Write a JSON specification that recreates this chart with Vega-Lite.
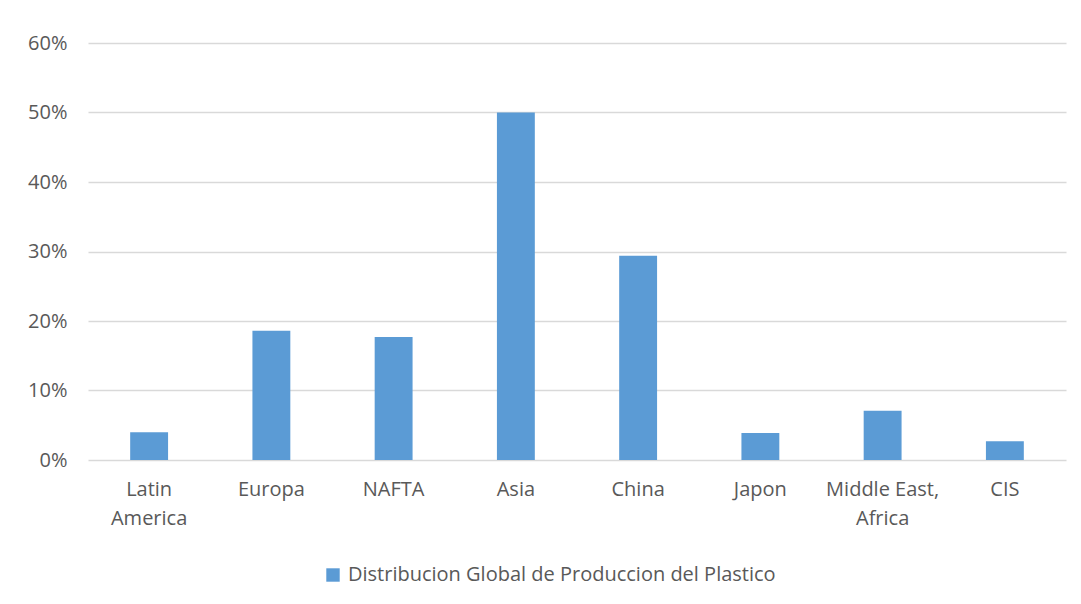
{
  "$schema": "https://vega.github.io/schema/vega-lite/v6.json",
  "width": 978,
  "height": 417,
  "autosize": {"type": "none"},
  "padding": {"left": 88, "top": 43, "right": 15, "bottom": 144},
  "background": "white",
  "data": {"values": [
    {"region": "Latin America", "share": 0.040, "series": "Distribucion Global de Produccion del Plastico"},
    {"region": "Europa", "share": 0.186, "series": "Distribucion Global de Produccion del Plastico"},
    {"region": "NAFTA", "share": 0.177, "series": "Distribucion Global de Produccion del Plastico"},
    {"region": "Asia", "share": 0.500, "series": "Distribucion Global de Produccion del Plastico"},
    {"region": "China", "share": 0.294, "series": "Distribucion Global de Produccion del Plastico"},
    {"region": "Japon", "share": 0.039, "series": "Distribucion Global de Produccion del Plastico"},
    {"region": "Middle East, Africa", "share": 0.071, "series": "Distribucion Global de Produccion del Plastico"},
    {"region": "CIS", "share": 0.027, "series": "Distribucion Global de Produccion del Plastico"}
  ]},
  "mark": {"type": "bar"},
  "encoding": {
    "x": {
      "field": "region", "type": "nominal", "sort": null, "title": null,
      "scale": {"paddingInner": 0.69, "paddingOuter": 0.345},
      "axis": {
        "labelAngle": 0, "ticks": false, "domain": false,
        "labelFont": "Open Sans", "labelFontSize": 20, "labelColor": "#595959",
        "labelPadding": 19, "labelLineHeight": 29,
        "labelExpr": "datum.label == 'Latin America' ? ['Latin', 'America'] : datum.label == 'Middle East, Africa' ? ['Middle East,', 'Africa'] : datum.label"
      }
    },
    "y": {
      "field": "share", "type": "quantitative", "title": null,
      "scale": {"domain": [0, 0.6]},
      "axis": {
        "format": ".0%", "values": [0, 0.1, 0.2, 0.3, 0.4, 0.5, 0.6], "labelOverlap": false,
        "ticks": false, "domain": false, "grid": true, "gridColor": "#d9d9d9", "gridWidth": 1.3,
        "labelFont": "Open Sans", "labelFontSize": 20, "labelColor": "#595959", "labelPadding": 21
      }
    },
    "color": {
      "field": "series", "type": "nominal",
      "scale": {"range": ["#5b9bd5"]},
      "legend": {
        "title": null, "orient": "none", "legendX": 235, "legendY": 522, "direction": "horizontal",
        "symbolType": "square", "symbolSize": 180, "symbolStrokeWidth": 0, "symbolOffset": 0,
        "labelFont": "Open Sans", "labelFontSize": 20, "labelColor": "#595959",
        "labelOffset": 5, "labelLimit": 700
      }
    }
  },
  "config": {"view": {"stroke": null}}
}
